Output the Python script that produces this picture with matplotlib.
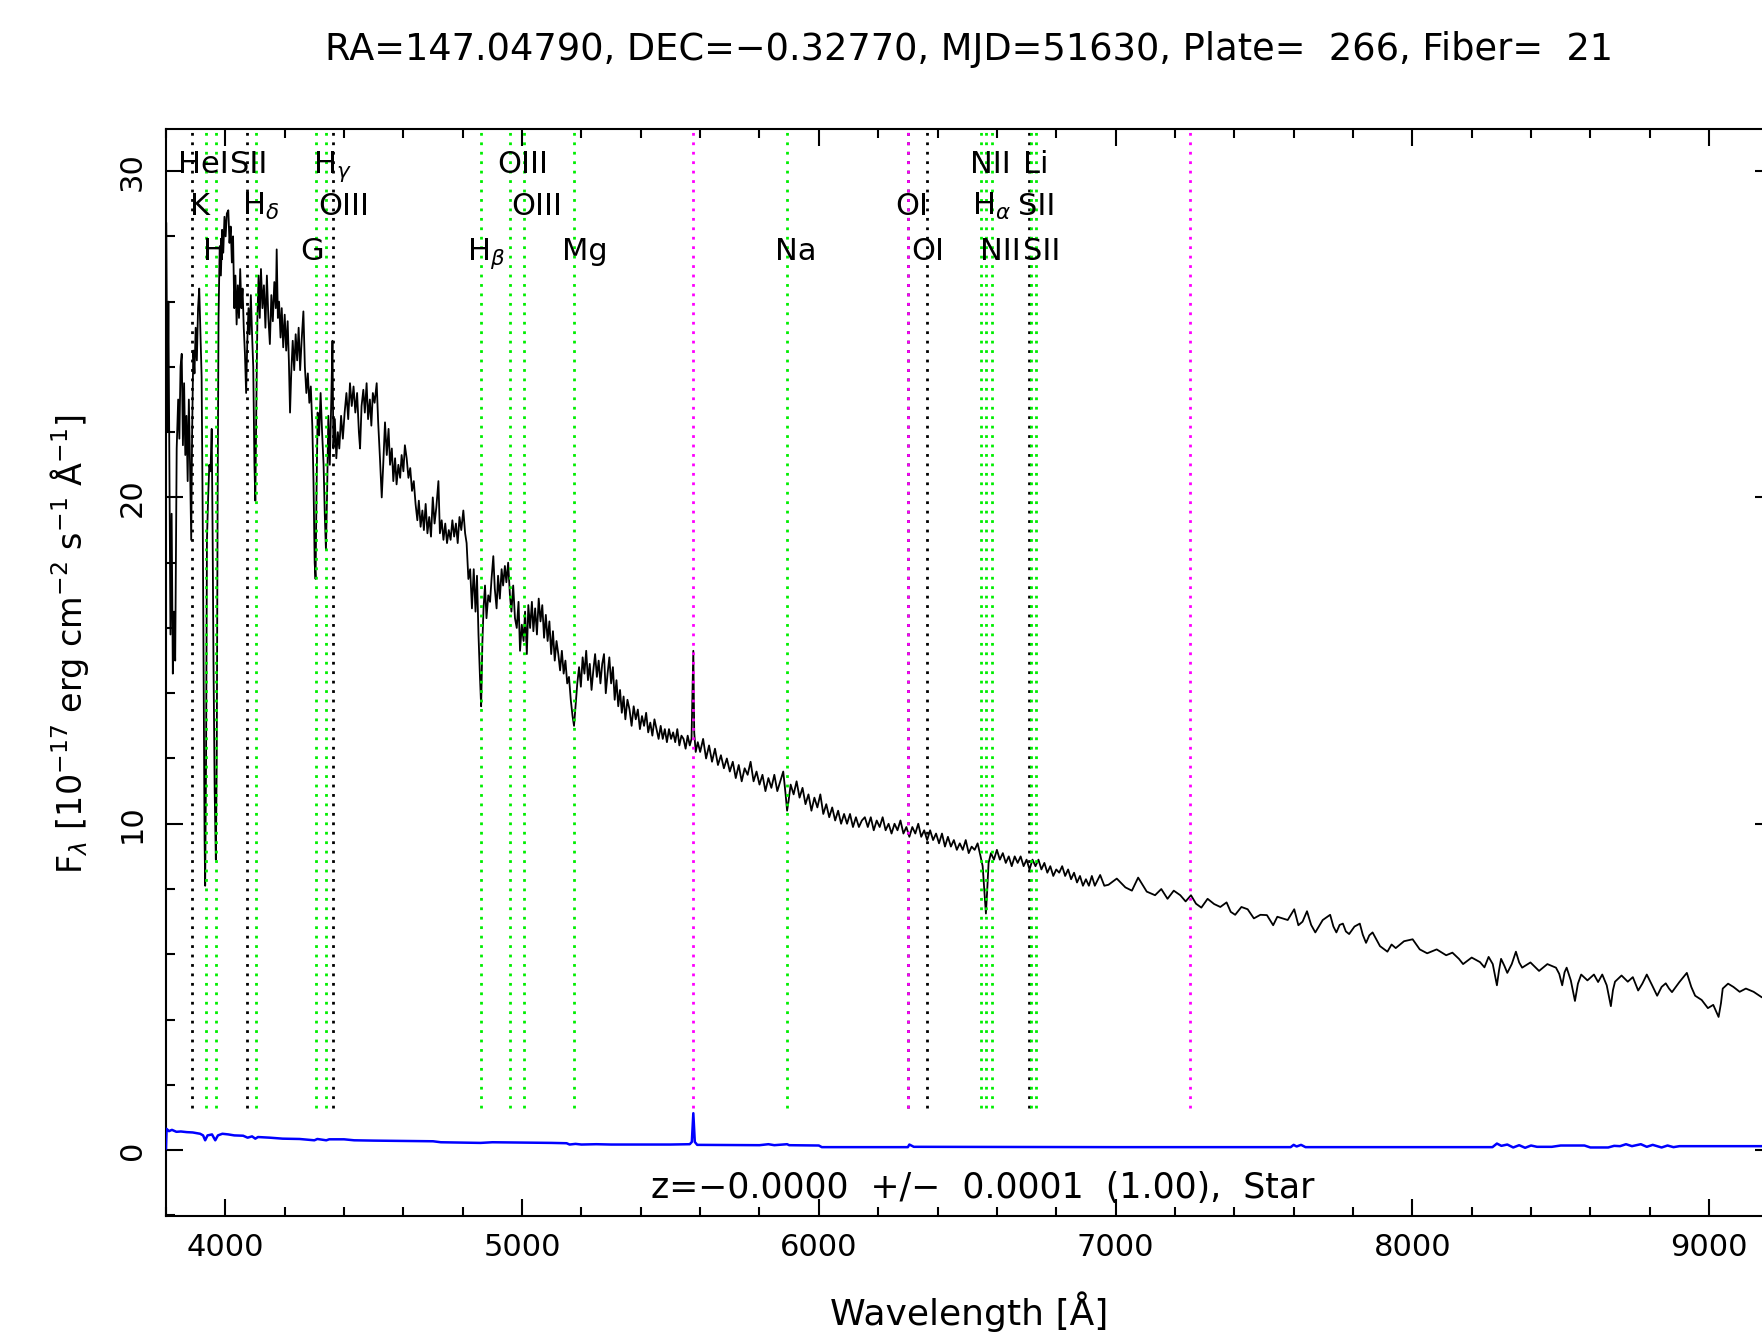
import matplotlib
matplotlib.use('Agg')
import matplotlib.pyplot as plt
from matplotlib.ticker import MultipleLocator

plt.rcParams['font.family'] = ['DejaVu Sans']
plt.rcParams['mathtext.fontset'] = 'dejavusans'

# ---------------- data ----------------
wave_blue = [3801, 3805, 3808, 3812, 3815, 3819, 3823, 3827, 3831, 3836, 3841, 3845, 3849, 3853, 3857,
             3861, 3865, 3869, 3873, 3877, 3881, 3885, 3888, 3892, 3896, 3900, 3904, 3908, 3912, 3916,
             3920, 3924, 3927, 3930, 3932, 3935, 3938, 3942, 3946, 3950, 3954, 3957, 3960, 3964, 3968,
             3971, 3974, 3977, 3981, 3985, 3989, 3993, 3997, 4001, 4005, 4010, 4014, 4018, 4022, 4026,
             4030, 4034, 4038, 4042, 4046, 4050, 4054, 4058, 4062, 4066, 4070, 4074, 4078, 4082, 4086,
             4090, 4094, 4098, 4101, 4104, 4108, 4112, 4116, 4120, 4125, 4130, 4135, 4140, 4145, 4150,
             4155, 4160, 4165, 4170, 4173, 4177, 4181, 4186, 4190, 4195, 4200, 4205, 4210, 4214, 4218,
             4222, 4227, 4232, 4237, 4242, 4247, 4252, 4257, 4263, 4268, 4273, 4278, 4283, 4288, 4293,
             4297, 4301, 4304, 4307, 4311, 4316, 4321, 4326, 4331, 4335, 4339, 4343, 4347, 4352, 4357,
             4361, 4364, 4369, 4374, 4379, 4384, 4390, 4396, 4402, 4408, 4414, 4420, 4426, 4432, 4438,
             4444, 4450, 4454, 4459, 4465, 4470, 4476, 4481, 4487, 4492, 4497, 4503, 4510, 4515, 4521,
             4527, 4532, 4538, 4544, 4550, 4555, 4561, 4566, 4572, 4577, 4583, 4589, 4594, 4600]
flux_blue = [28.4, 22.0, 26.0, 20.0, 15.8, 19.5, 14.6, 16.5, 15.0, 21.5, 23.0, 21.8, 24.0, 24.4, 21.6,
             23.5, 21.3, 22.5, 20.5, 23.0, 21.0, 18.7, 22.0, 24.5, 23.8, 25.2, 24.2, 25.8, 26.4, 25.0,
             23.7, 19.0, 14.0, 9.5, 8.1, 12.0, 18.7, 20.0, 21.0, 20.8, 22.1, 19.0, 15.0, 11.0, 8.9,
             12.0, 20.0, 25.5, 27.7, 26.8, 28.2, 27.5, 28.6, 28.0, 28.7, 28.8, 27.8, 28.3, 27.2, 28.0,
             25.8, 26.8, 25.3, 26.5, 25.5, 27.0, 25.8, 26.4, 25.2, 24.4, 23.2, 24.8, 25.8, 25.0, 26.2,
             25.0, 24.0, 21.0, 19.9, 22.5, 25.5, 26.8, 25.5, 27.0, 25.8, 26.5, 25.2, 26.8, 25.5, 24.7,
             26.2, 25.4, 26.6, 25.8, 27.6, 25.5, 26.0, 24.9, 25.8, 24.6, 25.6, 24.5, 25.4, 24.2, 22.6,
             23.8, 24.8, 23.9, 25.0, 24.2, 25.2, 23.9, 24.8, 25.7, 24.0, 23.2, 23.8, 22.9, 23.4, 22.2,
             20.5, 18.0, 17.5, 20.0, 22.6, 21.9, 23.2, 22.0, 21.0, 19.5, 18.4, 20.2, 22.5, 21.0, 23.0,
             24.8, 21.5, 22.4, 21.2, 22.0, 21.5, 22.5, 21.8, 22.6, 23.2, 22.4, 23.5, 22.8, 23.4, 22.6,
             23.2, 22.0, 21.5, 22.8, 23.3, 22.6, 23.5, 22.4, 23.0, 22.2, 23.2, 22.9, 23.5, 22.3, 21.2,
             20.0, 21.0, 22.3, 21.3, 22.1, 21.0, 21.5, 20.5, 21.2, 20.4, 21.0, 20.6, 21.3, 20.8]

wave_green = [4605, 4611, 4617, 4623, 4629, 4635, 4641, 4647, 4652, 4658, 4664, 4669, 4675, 4681, 4687,
              4693, 4699, 4705, 4711, 4718, 4723, 4729, 4735, 4741, 4747, 4753, 4759, 4765, 4771, 4777,
              4783, 4789, 4795, 4802, 4808, 4813, 4819, 4825, 4831, 4837, 4843, 4848, 4853, 4858, 4862,
              4866, 4870, 4875, 4880, 4886, 4892, 4897, 4903, 4908, 4914, 4919, 4925, 4931, 4936, 4942,
              4947, 4953, 4959, 4964, 4970, 4976, 4982, 4988, 4993, 4999, 5005, 5010, 5016, 5021, 5027,
              5033, 5038, 5044, 5050, 5056, 5062, 5068, 5074, 5080, 5086, 5092, 5098, 5104, 5110, 5116,
              5122, 5128, 5134, 5140, 5146, 5152, 5158, 5164, 5170, 5175, 5180, 5186, 5192, 5198, 5204,
              5210, 5216, 5222, 5228, 5234, 5240, 5246, 5252, 5258, 5264, 5270, 5276, 5282, 5288, 5294,
              5300, 5306, 5312, 5318, 5324, 5330, 5336, 5342, 5348, 5355, 5362, 5369, 5376, 5383, 5390,
              5397, 5404, 5411, 5418, 5425, 5432, 5439, 5446, 5453, 5460, 5467, 5474, 5481, 5488, 5495,
              5502, 5509, 5516, 5523, 5530, 5537, 5544, 5551, 5558, 5565, 5571, 5575, 5577, 5580, 5585,
              5592]
flux_green = [21.6, 21.2, 20.6, 20.9, 20.2, 20.5, 19.8, 19.3, 19.9, 19.1, 19.6, 19.0, 19.8, 18.9, 19.4,
              18.8, 20.0, 19.2, 19.7, 20.5, 18.9, 19.3, 18.7, 19.2, 18.6, 19.0, 18.7, 19.3, 18.8, 19.2,
              18.6, 19.4, 19.0, 19.6, 18.9, 18.6, 17.5, 17.8, 16.6, 17.8, 16.5, 17.6, 15.8, 14.5, 13.6,
              15.5, 16.6, 17.3, 16.3, 17.0, 16.8, 17.5, 18.2, 17.2, 16.6, 17.6, 16.9, 17.8, 17.3, 17.9,
              17.4, 18.0, 17.0, 16.5, 17.3, 16.3, 16.0, 16.8, 15.3, 16.1, 15.6, 16.5, 15.2, 16.7, 16.0,
              16.8, 15.9, 16.6, 15.8, 16.9, 16.2, 16.7, 15.7, 16.4, 15.6, 16.2, 15.2, 15.9, 15.0, 15.6,
              15.2, 14.7, 15.3, 14.6, 15.0, 14.3, 14.5, 13.8, 13.3, 13.0, 13.6, 14.3, 14.8, 14.2, 15.1,
              14.6, 15.3, 14.4, 14.9, 14.1, 14.7, 15.2, 14.5, 15.0, 14.3, 14.9, 15.2, 14.0, 14.6, 15.1,
              14.3, 14.8, 13.8, 14.4, 13.6, 14.1, 13.4, 13.9, 13.2, 13.8, 13.5, 13.0, 13.6, 13.2, 13.5,
              12.9, 13.3, 13.0, 13.4, 12.8, 13.1, 12.7, 13.2, 12.9, 12.6, 13.0, 12.6, 12.9, 12.5, 12.9,
              12.6, 12.8, 12.5, 12.9, 12.4, 12.7, 12.6, 12.3, 12.7, 12.4, 12.6, 14.5, 15.3, 12.8, 12.2,
              12.5]

wave_red = [5600, 5610, 5620, 5630, 5640, 5650, 5660, 5670, 5680, 5690, 5700, 5710, 5720, 5730, 5740,
            5750, 5760, 5770, 5780, 5790, 5800, 5810, 5820, 5830, 5840, 5850, 5860, 5870, 5880, 5888,
            5893, 5898, 5905, 5915, 5925, 5935, 5945, 5955, 5965, 5975, 5985, 5995, 6005, 6015, 6025,
            6035, 6045, 6055, 6065, 6075, 6085, 6095, 6105, 6115, 6125, 6135, 6145, 6155, 6165, 6175,
            6185, 6195, 6205, 6215, 6225, 6235, 6245, 6255, 6265, 6275, 6285, 6295, 6305, 6315, 6325,
            6335, 6345, 6355, 6365, 6375, 6385, 6395, 6405, 6415, 6425, 6435, 6445, 6455, 6465, 6475,
            6485, 6495, 6505, 6515, 6525, 6535, 6545, 6552, 6558, 6563, 6567, 6572, 6580, 6590, 6600,
            6610, 6620, 6630, 6640, 6650, 6660, 6670, 6680, 6690, 6700, 6710, 6720, 6730, 6740, 6750,
            6760, 6770, 6780, 6790, 6800, 6810, 6820, 6830, 6840, 6850, 6860, 6870, 6880, 6890, 6900,
            6910, 6920, 6930]
flux_red = [12.2, 12.6, 12.0, 12.4, 11.9, 12.3, 11.8, 12.1, 11.7, 12.0, 11.6, 11.9, 11.4, 11.8, 11.3,
            11.7, 11.5, 11.9, 11.3, 11.6, 11.2, 11.5, 11.0, 11.4, 11.1, 11.5, 11.0, 11.3, 11.6, 10.9,
            10.4, 10.7, 11.2, 10.9, 11.3, 10.8, 11.1, 10.6, 10.9, 10.4, 10.8, 10.5, 10.9, 10.3, 10.6,
            10.2, 10.5, 10.1, 10.4, 10.0, 10.3, 10.0, 10.3, 9.9, 10.2, 9.9, 10.1, 10.2, 9.9, 10.2,
            9.8, 10.1, 9.9, 10.2, 9.8, 10.0, 9.7, 10.0, 9.8, 10.1, 9.7, 9.9, 9.6, 9.9, 9.7,
            10.0, 9.6, 9.8, 9.5, 9.8, 9.5, 9.7, 9.4, 9.7, 9.3, 9.6, 9.3, 9.5, 9.2, 9.4,
            9.2, 9.5, 9.1, 9.3, 9.2, 9.4, 9.0, 8.7, 7.9, 7.25, 7.9, 8.8, 9.1, 8.9, 9.2,
            8.9, 9.1, 8.8, 9.0, 8.7, 9.0, 8.8, 9.0, 8.7, 8.9, 8.6, 8.9, 8.7, 8.9, 8.6,
            8.8, 8.5, 8.7, 8.4, 8.6, 8.5, 8.7, 8.4, 8.6, 8.3, 8.5, 8.2, 8.4, 8.1, 8.3,
            8.1, 8.4, 8.1]

wave_ir = [6948, 6962, 6976, 7004, 7033, 7055, 7076, 7105, 7133, 7154, 7175, 7196, 7218, 7236, 7254,
           7271, 7289, 7310, 7332, 7353, 7374, 7388, 7403, 7424, 7445, 7466, 7488, 7510, 7531, 7545,
           7559, 7580, 7602, 7616, 7630, 7645, 7659, 7673, 7698, 7723, 7734, 7744, 7755, 7766, 7776,
           7787, 7805, 7823, 7833, 7844, 7855, 7866, 7891, 7916, 7930, 7944, 7972, 8001, 8025, 8050,
           8082, 8114, 8135, 8157, 8171, 8200, 8228, 8243, 8257, 8271, 8285, 8292, 8299, 8310, 8320,
           8335, 8349, 8360, 8370, 8398, 8427, 8455, 8484, 8495, 8505, 8513, 8520, 8534, 8548, 8558,
           8569, 8590, 8612, 8626, 8640, 8655, 8669, 8676, 8683, 8705, 8726, 8743, 8761, 8775, 8790,
           8808, 8825, 8840, 8854, 8865, 8875, 8900, 8925, 8940, 8953, 8975, 8996, 9014, 9032, 9040,
           9046, 9064, 9082, 9103, 9124, 9150, 9178, 9215]
flux_ir = [8.43, 8.10, 8.13, 8.32, 8.05, 7.95, 8.35, 7.92, 7.81, 8.00, 7.70, 7.95, 7.81, 7.62, 7.81,
           7.55, 7.43, 7.70, 7.54, 7.45, 7.59, 7.30, 7.21, 7.45, 7.38, 7.10, 7.21, 7.20, 6.89, 7.15,
           7.11, 7.05, 7.38, 6.89, 7.00, 7.32, 6.90, 6.67, 7.05, 7.21, 6.85, 6.67, 6.90, 6.94, 6.70,
           6.62, 6.85, 6.94, 6.60, 6.35, 6.58, 6.67, 6.25, 6.08, 6.30, 6.19, 6.40, 6.46, 6.15, 6.03,
           6.15, 5.97, 6.05, 5.86, 5.70, 5.90, 5.76, 5.60, 5.92, 5.70, 5.05, 5.50, 5.86, 5.65, 5.43,
           5.70, 6.08, 5.75, 5.59, 5.75, 5.49, 5.70, 5.59, 5.40, 5.05, 5.45, 5.59, 5.20, 4.57, 5.10,
           5.38, 5.20, 5.38, 5.15, 5.38, 5.05, 4.41, 4.90, 5.16, 5.35, 5.16, 5.30, 4.89, 5.10, 5.38,
           5.05, 4.73, 5.00, 5.11, 4.95, 4.84, 5.15, 5.43, 5.00, 4.73, 4.60, 4.35, 4.45, 4.08, 4.50,
           4.95, 5.10, 5.00, 4.85, 4.95, 4.85, 4.68, 4.80]

err_wave = [3800, 3802, 3810, 3820, 3835, 3850, 3870, 3890, 3915, 3925, 3932, 3940, 3955, 3966, 3975,
            3990, 4010, 4030, 4060, 4075, 4090, 4101, 4110, 4150, 4193, 4250, 4300, 4310, 4340, 4350,
            4400, 4434, 4500, 4600, 4700, 4726, 4860, 4900, 5000, 5100, 5150, 5160, 5180, 5200, 5250,
            5300, 5500, 5565, 5572, 5577, 5582, 5590, 5800, 5830, 5850, 5893, 5900, 6000, 6010, 6300,
            6305, 6320, 7000, 7590, 7600, 7610, 7625, 7640, 8270, 8285, 8300, 8320, 8340, 8360, 8380,
            8400, 8420, 8470, 8500, 8580, 8600, 8660, 8680, 8700, 8720, 8740, 8770, 8790, 8810, 8840,
            8860, 8880, 8900, 9020, 9215]
err_flux = [0.05, 0.65, 0.58, 0.62, 0.56, 0.57, 0.55, 0.54, 0.50, 0.45, 0.30, 0.45, 0.48, 0.30, 0.45,
            0.50, 0.48, 0.45, 0.44, 0.38, 0.42, 0.35, 0.40, 0.38, 0.35, 0.34, 0.30, 0.34, 0.30, 0.33,
            0.33, 0.30, 0.29, 0.28, 0.27, 0.24, 0.22, 0.24, 0.23, 0.22, 0.21, 0.17, 0.19, 0.17, 0.18,
            0.17, 0.17, 0.18, 0.25, 1.13, 0.25, 0.16, 0.15, 0.18, 0.15, 0.18, 0.15, 0.14, 0.09, 0.09,
            0.17, 0.10, 0.09, 0.09, 0.16, 0.11, 0.16, 0.09, 0.09, 0.20, 0.13, 0.17, 0.08, 0.15, 0.07,
            0.14, 0.10, 0.10, 0.14, 0.14, 0.08, 0.08, 0.13, 0.12, 0.18, 0.12, 0.18, 0.10, 0.16, 0.08,
            0.14, 0.09, 0.12, 0.12, 0.12]

# marker lines
line_wave = [3889, 4072, 4363, 6300, 6363, 6708,
             3934, 3969, 4102, 4304, 4340, 4861, 4959, 5007, 5175, 5892, 6548, 6563, 6583, 6716, 6731,
             5577, 6300, 7250]
line_color = ['black'] * 6 + ['#00ee00'] * 15 + ['#ff00ff'] * 3

# labels: text, left-edge wavelength, row
label_text = ['HeI', 'SII', r'H$_\gamma$', 'OIII', 'NII', 'Li',
              'K', r'H$_\delta$', 'OIII', 'OIII', 'OI', r'H$_\alpha$', 'SII',
              'H', 'G', r'H$_\beta$', 'Mg', 'Na', 'OI', 'NII', 'SII']
label_wave = [3840, 4016, 4296, 4916, 6510, 6689,
              3881, 4055, 4313, 4964, 6257, 6515, 6672,
              3926, 4252, 4813, 5136, 5852, 6313, 6543, 6689]
label_row = [0, 0, 0, 0, 0, 0, 1, 1, 1, 1, 1, 1, 1, 2, 2, 2, 2, 2, 2, 2, 2]
row_y = [29.94, 28.66, 27.28]

title = 'RA=147.04790, DEC=\u22120.32770, MJD=51630, Plate=  266, Fiber=  21'
ztext = 'z=\u22120.0000  +/\u2212  0.0001  (1.00),  Star'
xlabel = 'Wavelength [\u00c5]'
ylabel = 'F$_\\lambda$ [10$^{-17}$ erg cm$^{-2}$ s$^{-1}$ \u00c5$^{-1}$]'

# ---------------- figure ----------------
W, H = 1762, 1335
fig = plt.figure(figsize=(W / 100, H / 100), dpi=100)
ax = fig.add_axes([166 / W, 1 - 1216 / H, (1772 - 166) / W, (1216 - 129) / H])

FS = 22

wave = wave_blue + wave_green + wave_red + wave_ir
flux = flux_blue + flux_green + flux_red + flux_ir
ax.plot(wave, flux, color='black', lw=1.3, zorder=3)
ax.plot(err_wave, err_flux, color='#0000ff', lw=1.8, zorder=3)

ax.vlines(line_wave, 1.3, 31.3, colors=line_color, linestyles=[(0, (1, 2.4))], lw=2.0, zorder=4)

for t, w, r in zip(label_text, label_wave, label_row):
    ax.text(w, row_y[r], t, ha='left', va='baseline', fontsize=FS, zorder=5)

ax.text(0.5087, 0.026, ztext, transform=ax.transAxes, ha='center', va='center', fontsize=25)

ax.set_xlim(3800, 9212)
ax.set_ylim(-2.02, 31.29)
ax.xaxis.set_major_locator(MultipleLocator(1000))
ax.xaxis.set_minor_locator(MultipleLocator(200))
ax.yaxis.set_major_locator(MultipleLocator(10))
ax.yaxis.set_minor_locator(MultipleLocator(2))
ax.tick_params(which='both', direction='in', top=True, right=True, width=1.5, labelsize=FS)
ax.tick_params(which='major', length=12)
ax.tick_params(which='minor', length=6.5)
ax.tick_params(axis='x', pad=12)
ax.tick_params(axis='y', pad=14)
for lab in ax.get_yticklabels():
    lab.set_rotation(90)
    lab.set_va('center')
for s in ax.spines.values():
    s.set_linewidth(1.5)

fig.text(969 / W, 1 - 50 / H, title, ha='center', va='center', fontsize=26.5)
fig.text(969 / W, 1 - 1312 / H, xlabel, ha='center', va='center', fontsize=26)
fig.text(70 / W, 1 - 644 / H, ylabel, ha='center', va='center', rotation=90, fontsize=24)

fig.savefig('out.png', dpi=100)
